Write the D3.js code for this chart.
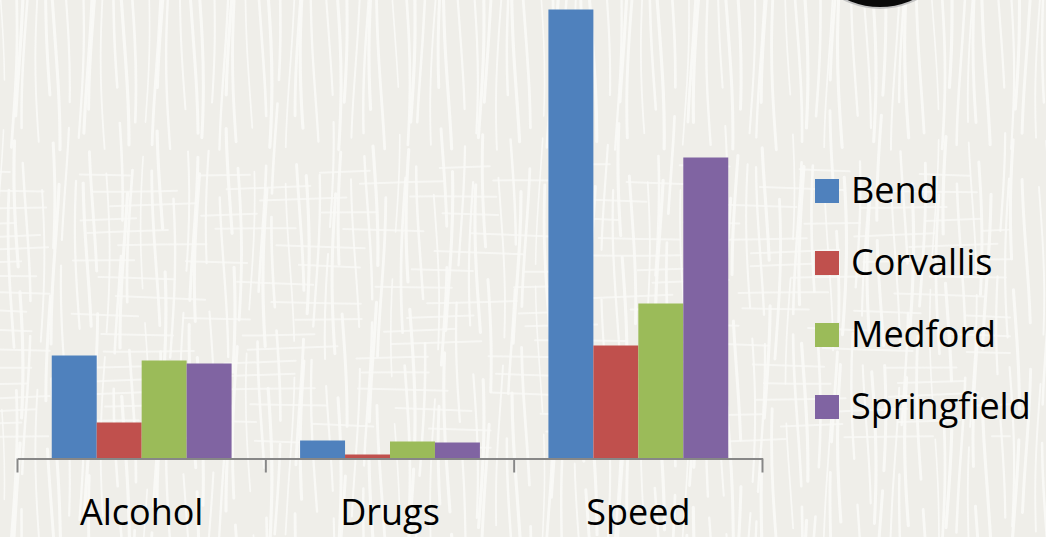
<!DOCTYPE html>
<html>
<head>
<meta charset="utf-8">
<script src="https://cdn.jsdelivr.net/npm/d3@7/dist/d3.min.js"></script>
<style>
  html, body { margin: 0; padding: 0; background: #f1f0ec; }
  svg { display: block; }
</style>
</head>
<body>
<svg id="chart" width="1046" height="537"></svg>
<script>
// Citation counts by violation type and city
const categories = ["Alcohol", "Drugs", "Speed"];
const cities = ["Bend", "Corvallis", "Medford", "Springfield"];
const bend = [103, 18, 449];
const corvallis = [36, 4, 113];
const medford = [98, 17, 155];
const springfield = [95, 16, 301];
const colors = ["#4f81bd", "#c0504d", "#9bbb59", "#8064a2"];
const yMax = 450;

const seriesValues = [bend, corvallis, medford, springfield];

const W = 1046, H = 537;
const svg = d3.select("#chart");
const FONT = "'Open Sans', 'Liberation Sans', sans-serif";

// Paper-like background with pale streaks
const bg = svg.append("g");
bg.append("rect").attr("width", W).attr("height", H).attr("fill", "#efeee9");
const streaks = bg.append("g").attr("stroke", "#fafaf7").attr("fill", "none")
  .attr("stroke-linecap", "round");
for (let i = 0; i < 110; i++) {
  const x0 = i * 9.6 + 3 * Math.sin(i * 1.7);
  const pts = d3.range(0, 12).map(k => [x0 + 5 * Math.sin(i * 0.9 + k * 0.8), k * 50 - 10]);
  streaks.append("path")
    .attr("d", d3.line().curve(d3.curveBasis)(pts))
    .attr("stroke-width", 1.6 + 1.6 * Math.abs(Math.sin(i * 2.3)))
    .attr("stroke-dasharray", `${90 + 70 * Math.abs(Math.sin(i * 1.3))} ${20 + 30 * Math.abs(Math.cos(i * 0.7))}`)
    .attr("opacity", 0.9);
}
for (let j = 0; j < 18; j++) {
  const y0 = 170 + j * 16;
  const pts = d3.range(0, 8).map(k => [k * 150 - 40, y0 + 7 * Math.sin(j * 0.6 + k * 1.1)]);
  streaks.append("path")
    .attr("d", d3.line().curve(d3.curveBasis)(pts))
    .attr("stroke-width", 2)
    .attr("stroke-dasharray", `${50 + 40 * Math.abs(Math.sin(j))} ${40 + 30 * Math.abs(Math.cos(j * 1.9))}`)
    .attr("opacity", 0.75);
}

// Dark emblem peeking in at the top edge
svg.append("circle").attr("cx", 880).attr("cy", -72).attr("r", 80)
  .attr("fill", "#0a0a0a").attr("stroke", "#c4c4c4").attr("stroke-width", 2);

// Scales
const axisLeft = 17.5, axisRight = 762.5, baseY = 458.5, topY = 8.5;
const x0 = d3.scaleBand().domain(categories).range([axisLeft, axisRight]).padding(0);
const groupPad = 34.25;
const x1 = d3.scaleBand().domain(cities)
  .range([groupPad, x0.bandwidth() - groupPad]).padding(0);
const y = d3.scaleLinear().domain([0, yMax]).range([baseY, topY]);

// Bars
const groups = svg.append("g").selectAll("g")
  .data(categories)
  .join("g")
  .attr("transform", d => `translate(${x0(d)},0)`);

groups.selectAll("rect")
  .data((cat, ci) => cities.map((city, si) => ({ city, value: seriesValues[si][ci], color: colors[si] })))
  .join("rect")
  .attr("x", d => x1(d.city))
  .attr("width", x1.bandwidth())
  .attr("y", d => y(d.value))
  .attr("height", d => baseY - y(d.value))
  .attr("fill", d => d.color);

// Category axis
const axis = d3.axisBottom(x0).tickSize(0);
const axisG = svg.append("g").attr("transform", `translate(0,${baseY})`).call(axis);
axisG.select(".domain").attr("stroke", "#878787").attr("stroke-width", 2);
axisG.selectAll("text")
  .attr("y", 66).attr("dy", 0)
  .attr("font-family", FONT)
  .attr("font-size", 36)
  .attr("fill", "#000");
// Dividing ticks between categories
const divs = [axisLeft, ...categories.map(c => x0(c) + x0.bandwidth())];
svg.append("g").selectAll("line").data(divs).join("line")
  .attr("x1", d => d).attr("x2", d => d)
  .attr("y1", baseY).attr("y2", baseY + 14)
  .attr("stroke", "#878787").attr("stroke-width", 2);

// Legend
const legend = svg.append("g").attr("transform", "translate(815,179)");
const items = legend.selectAll("g").data(cities).join("g")
  .attr("transform", (d, i) => `translate(0,${i * 72})`);
items.append("rect").attr("width", 24).attr("height", 24)
  .attr("fill", (d, i) => colors[i]);
items.append("text").attr("x", 36).attr("y", 24)
  .attr("font-family", FONT)
  .attr("font-size", 36).attr("fill", "#000")
  .text(d => d);
</script>
</body>
</html>
